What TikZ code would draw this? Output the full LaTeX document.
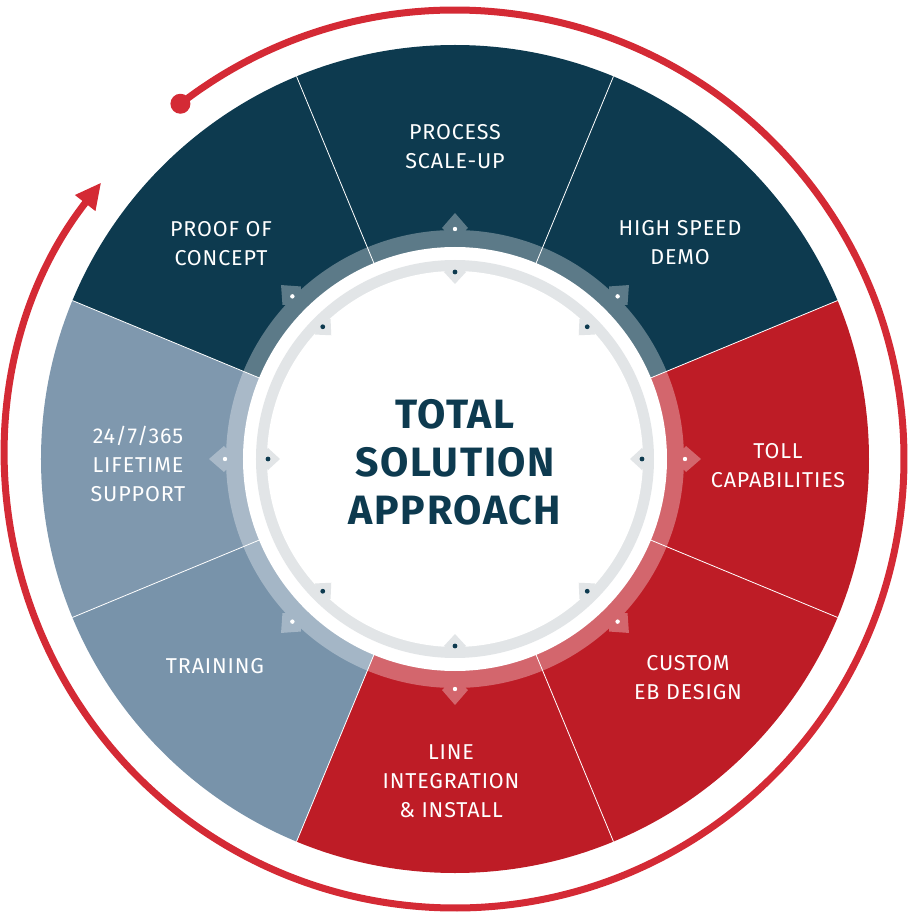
\documentclass[tikz,border=0pt]{standalone}
\usepackage{fontspec}
\setmainfont{Fira Sans}
\usetikzlibrary{arrows.meta,calc}
\definecolor{navy}{HTML}{0D3A4F}
\definecolor{red1}{HTML}{BE1C26}
\definecolor{grey1}{HTML}{7893AA}
\definecolor{arc}{HTML}{D42A35}
\definecolor{ringg}{HTML}{E2E5E7}
\begin{document}
\begin{tikzpicture}[x=1pt,y=1pt,
  lab/.style={text=white,align=center,font=\fontsize{21.5}{29}\selectfont\addfontfeatures{LetterSpace=4}}]
\useasboundingbox (-455,-457) rectangle (461,459);
% sectors clipped to disc
\begin{scope}
\clip (0,0) circle (414);
\foreach \a/\c in {90/navy,45/navy,0/red1,-45/red1,-90/red1,-135/grey1,180/grey1!95!white,135/navy}{
  \fill[\c] (0,0) -- (\a+22.5:480) -- (\a-22.5:480) -- cycle;
}
\foreach \a in {22.5,67.5,...,360}{ \draw[white,line width=0.8] (0,0) -- (\a:480); }
\end{scope}
% translucent ring with nubs
\begin{scope}[transparency group,opacity=0.33]
\fill[white] (0,0) circle (229);
\foreach \a in {0,45,...,315}{
  \fill[white] (\a:218) -- ($(\a:231)+(\a+90:13)$) -- (\a:246) -- ($(\a:231)+(\a-90:13)$) -- cycle;
}
\end{scope}
% inner disc
\fill[white] (0,0) circle (212);
\fill[ringg] (0,0) circle (199);
\fill[white] (0,0) circle (188);
\foreach \a in {0,45,...,315}{
  \fill[ringg] (\a:194) -- ($(\a:187)+(\a+90:11)$) -- (\a:175) -- ($(\a:187)+(\a-90:11)$) -- cycle;
  \fill[white] (\a:230) circle (2.2);
  \fill[navy] (\a:187) circle (2.4);
}
% outer arc
\draw[arc,line width=7,-{Triangle[length=26,width=24]}] (127.7:449) arc[start angle=127.7,end angle=-218,radius=449];
\fill[arc] (127.7:449) circle (10);
% text
\node[text=navy,align=center,font=\fontsize{41}{48}\selectfont\bfseries\addfontfeatures{LetterSpace=4}] (c) at (0,-3) {TOTAL\\SOLUTION\\APPROACH};
\node[lab] (p1) at (0,312) {PROCESS\\SCALE-UP};
\node[lab] (p2) at (225,216) {HIGH SPEED\\DEMO};
\node[lab] (p3) at (323,-7) {TOLL\\CAPABILITIES};
\node[lab] (p4) at (233,-219) {CUSTOM\\EB DESIGN};
\node[lab] (p5) at (-4,-322) {LINE\\INTEGRATION\\\& INSTALL};
\node[lab] (p6) at (-240,-207) {TRAINING};
\node[lab] (p7) at (-317,-5) {24/7/365\\LIFETIME\\SUPPORT};
\node[lab] (p8) at (-234,215) {PROOF OF\\CONCEPT};
\end{tikzpicture}
\end{document}
